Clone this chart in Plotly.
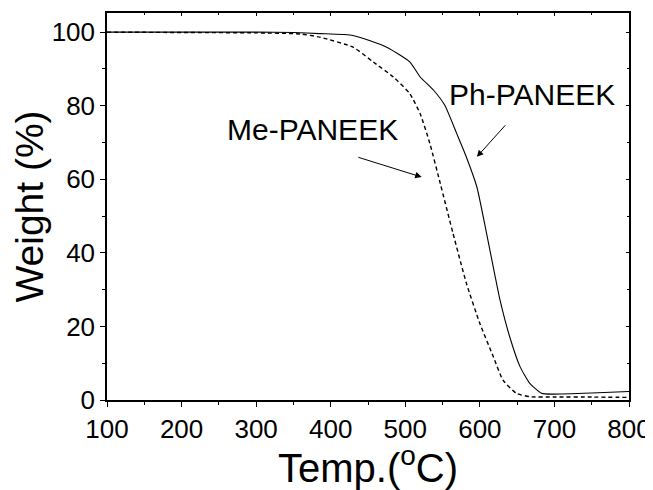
import plotly.graph_objects as go

# Ph-PANEEK (solid)
ph_temp = [100, 200, 300, 350, 385, 430, 475, 506, 520, 538, 553, 569, 582, 596, 609, 627, 640, 654, 667, 683, 698, 750, 800]
ph_weight = [100, 100, 100, 99.9, 99.6, 99.1, 95.9, 91.9, 87.8, 84.2, 80.1, 72.4, 66.0, 57.9, 45.3, 27.2, 17.2, 9.0, 4.5, 1.8, 1.6, 1.9, 2.3]

# Me-PANEEK (dashed)
me_temp = [100, 200, 300, 359, 386, 430, 457, 484, 506, 520, 533, 547, 564, 582, 600, 618, 631, 649, 667, 700, 750, 800]
me_weight = [100, 99.9, 99.8, 99.5, 98.6, 95.9, 91.9, 87.8, 83.3, 77.8, 69.7, 58.8, 45.3, 31.7, 20.8, 11.8, 5.4, 1.8, 0.9, 0.8, 0.8, 0.7]

x_ticks = [100, 200, 300, 400, 500, 600, 700, 800]
y_ticks = [0, 20, 40, 60, 80, 100]

labels = [
    {"text": "Me-PANEEK", "x": 375, "y": 73.5},
    {"text": "Ph-PANEEK", "x": 670, "y": 83.1},
]
arrows = [
    {"tail": (435, 66.1), "head": (522, 60.6)},
    {"tail": (636, 75.1), "head": (596, 66.1)},
]

FONT = "Liberation Sans, Arial, sans-serif"

fig = go.Figure()
fig.add_trace(go.Scatter(x=ph_temp, y=ph_weight, mode="lines", name="Ph-PANEEK",
                         line=dict(color="black", width=1.1, shape="spline", smoothing=0.5)))
fig.add_trace(go.Scatter(x=me_temp, y=me_weight, mode="lines", name="Me-PANEEK",
                         line=dict(color="black", width=1.4, dash="4px,3px", shape="spline", smoothing=0.5)))

annotations = []
for lb in labels:
    annotations.append(dict(x=lb["x"], y=lb["y"], xref="x", yref="y", text=lb["text"],
                            showarrow=False, font=dict(family=FONT, size=30, color="black"),
                            xanchor="center", yanchor="middle"))
for ar in arrows:
    annotations.append(dict(x=ar["head"][0], y=ar["head"][1], ax=ar["tail"][0], ay=ar["tail"][1],
                            xref="x", yref="y", axref="x", ayref="y", text="",
                            showarrow=True, arrowhead=2, arrowsize=1.3, arrowwidth=1, arrowcolor="black"))

fig.update_layout(
    width=645, height=482,
    margin=dict(l=99, r=24, t=5, b=90),
    paper_bgcolor="white", plot_bgcolor="white",
    showlegend=False,
    font=dict(family=FONT, color="black"),
    annotations=annotations,
    xaxis=dict(range=[100, 800], tickvals=x_ticks, ticktext=[str(v) for v in x_ticks],
               automargin=False,
               showgrid=False, zeroline=False, showline=True, linecolor="black", linewidth=1.5,
               ticks="outside", ticklen=5, tickwidth=1.2, tickcolor="black",
               minor=dict(dtick=50, ticks="outside", ticklen=3, tickwidth=1, tickcolor="black"),
               mirror=True, tickfont=dict(size=26, family=FONT),
               title=dict(text="Temp.(<sup>o</sup>C)", font=dict(size=40, family=FONT), standoff=9)),
    yaxis=dict(range=[0, 105.2], tickvals=y_ticks, ticktext=[str(v) for v in y_ticks],
               automargin=False,
               showgrid=False, zeroline=False, showline=True, linecolor="black", linewidth=1.5,
               ticks="outside", ticklen=5, tickwidth=1.2, tickcolor="black",
               minor=dict(dtick=10, ticks="outside", ticklen=3, tickwidth=1, tickcolor="black"),
               mirror=True, tickfont=dict(size=26, family=FONT),
               title=dict(text="Weight (%)", font=dict(size=39, family=FONT), standoff=8)),
    xaxis2=dict(overlaying="x", matches="x", side="top", range=[100, 800], tickvals=x_ticks,
                automargin=False,
                showticklabels=False, showgrid=False, zeroline=False, ticks="inside", ticklen=3,
                tickcolor="black", minor=dict(dtick=50, ticks="inside", ticklen=2, tickcolor="black")),
    yaxis2=dict(overlaying="y", matches="y", side="right", range=[0, 105.2], tickvals=y_ticks,
                automargin=False,
                showticklabels=False, showgrid=False, zeroline=False, ticks="inside", ticklen=3,
                tickcolor="black", minor=dict(dtick=10, ticks="inside", ticklen=2, tickcolor="black")),
)
fig.add_trace(go.Scatter(x=[100], y=[100], xaxis="x2", yaxis="y2", mode="markers",
                         marker=dict(opacity=0), hoverinfo="skip", showlegend=False))

fig.write_html("out.html")
